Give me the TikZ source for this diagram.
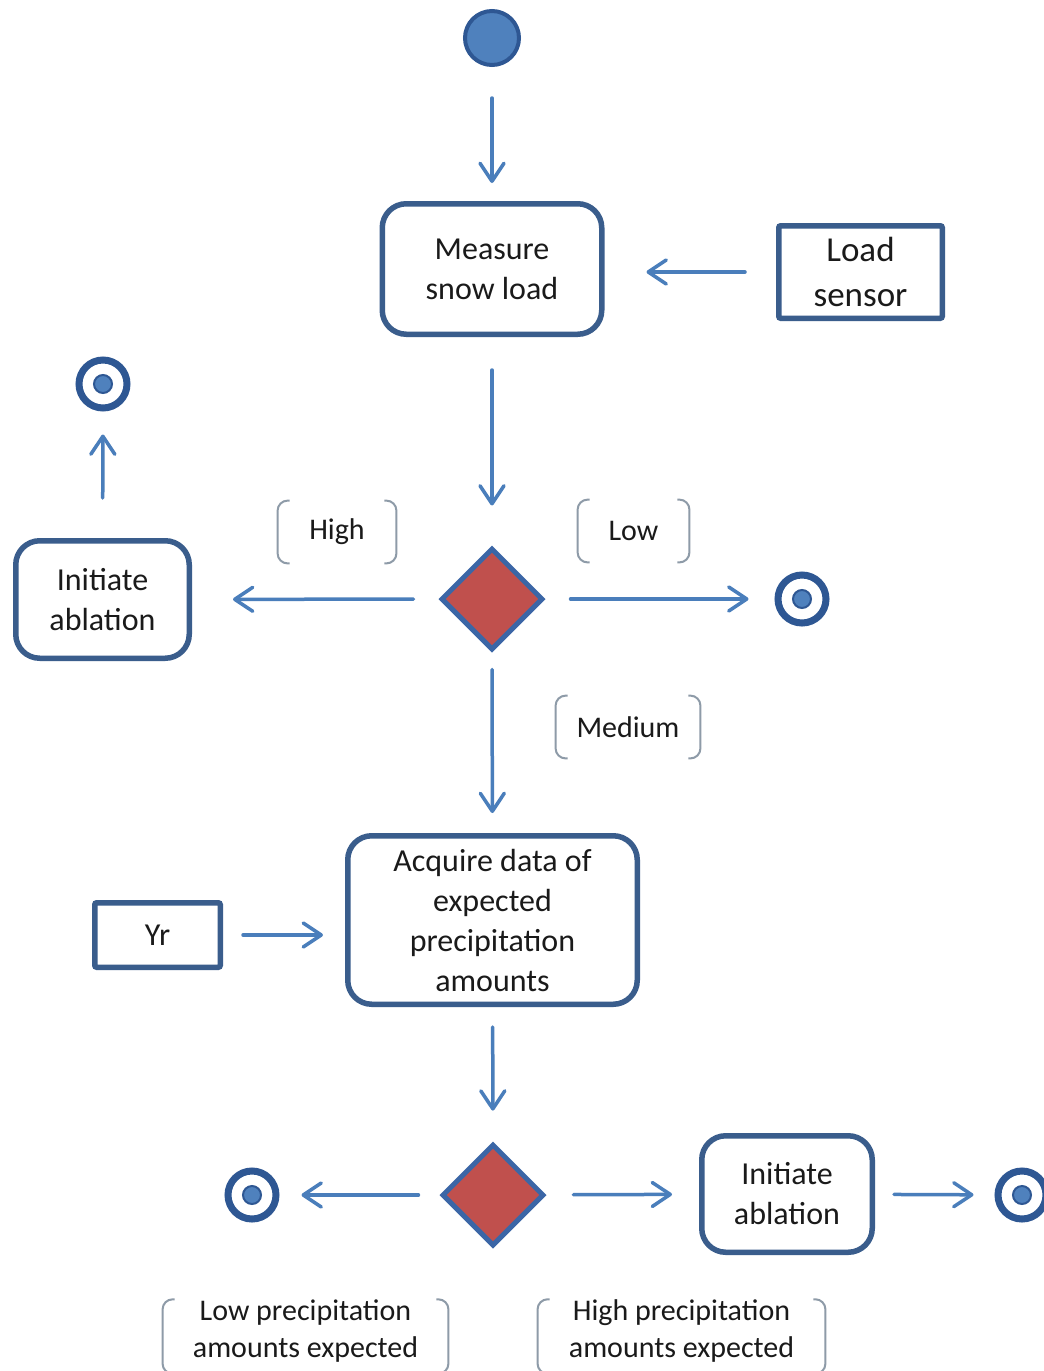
\documentclass[tikz,border=0pt]{standalone}
\usepackage{fontspec}
\setmainfont{Carlito}
\usetikzlibrary{arrows.meta,shapes.geometric}

\definecolor{flowblue}{HTML}{4A7EBB}
\definecolor{edgeblue}{HTML}{3A5D8C}
\definecolor{ringblue}{HTML}{2E5793}
\definecolor{dotblue}{HTML}{4F81BD}
\definecolor{diaedge}{HTML}{3B66A6}
\definecolor{diafill}{HTML}{C0504D}
\definecolor{guardgray}{HTML}{8E9BA8}
\definecolor{ink}{HTML}{1A1A1A}

\tikzset{
  act/.style={draw=edgeblue,line width=2.75pt,rounded corners=12pt,align=center,
    inner sep=0pt,text=ink,font=\fontsize{16}{20}\selectfont},
  obj/.style={draw=edgeblue,line width=2.75pt,rounded corners=1pt,align=center,
    inner sep=0pt,text=ink,font=\fontsize{16}{20}\selectfont},
  decision/.style={diamond,aspect=1,draw=diaedge,fill=diafill,line width=2.5pt,
    minimum width=51pt,minimum height=51pt,inner sep=0pt},
  initial/.style={circle,draw=ringblue,fill=dotblue,line width=2pt,minimum size=27pt,inner sep=0pt},
  final/.style={circle,draw=ringblue,line width=3.5pt,minimum size=24pt,inner sep=0pt,
    path picture={\fill[dotblue,draw=ringblue,line width=1pt] (path picture bounding box.center) circle (4.5pt);}},
  guard/.style={inner sep=0pt,align=center,text=ink,font=\fontsize{15}{18.5}\selectfont},
  guardline/.style={draw=guardgray,line width=1pt,rounded corners=5pt},
  flow/.style={draw=flowblue,line width=1.75pt,line cap=round,
    -{Straight Barb[length=9pt,width=12pt,line cap=round,line join=round]}},
}

% bracket pair round a guard label, optional drop of the lower ends
\newcommand{\guardbrackets}[2][0pt]{%
  \draw[guardline] ([xshift=6pt]#2.north west) -- (#2.north west) -- ([yshift=-#1]#2.south west) -- ([xshift=6pt,yshift=-#1]#2.south west);
  \draw[guardline] ([xshift=-6pt]#2.north east) -- (#2.north east) -- ([yshift=-#1]#2.south east) -- ([xshift=-6pt,yshift=-#1]#2.south east);}

\begin{document}
\begin{tikzpicture}[x=0.5pt,y=-0.5pt]
\clip (0,0) rectangle (1044,1371);
\fill[white] (0,0) rectangle (1044,1371);

% activities and objects
\node[initial] (start) at (492,38) {};
\node[act,minimum width=109.75pt,minimum height=65.25pt] (measure) at (492,269) {Measure\\snow load};
\node[obj,minimum width=81.75pt,minimum height=46.25pt,font=\fontsize{17.5}{22.5}\selectfont] (sensor) at (860.5,272) {Load\\sensor};
\node[decision] (load) at (492,599) {};
\node[act,minimum width=86.75pt,minimum height=58.75pt] (ablationA) at (102.5,599.5) {Initiate\\ablation};
\node[final] (endA) at (103,384) {};
\node[final] (endB) at (802,599) {};
\node[act,minimum width=144.75pt,minimum height=84.25pt] (acquire) at (492.5,920) {Acquire data of\\expected\\precipitation\\amounts};
\node[obj,minimum width=62.75pt,minimum height=32.25pt] (yr) at (157.5,935) {Yr};
\node[decision] (precip) at (493,1195) {};
\node[final] (endC) at (252,1195) {};
\node[act,minimum width=85.25pt,minimum height=58.25pt] (ablationB) at (787,1194) {Initiate\\ablation};
\node[final] (endD) at (1022,1195) {};

% guard labels
\node[guard,minimum width=59pt,minimum height=31pt] (high) at (337,532) {High};
\node[guard,minimum width=55.5pt,minimum height=31pt] (low) at (633.5,531) {Low};
\node[guard,minimum width=72pt,minimum height=31pt] (medium) at (628,727) {Medium};
\node[guard,minimum width=142.5pt,minimum height=28pt] (lowprecip) at (305.5,1331) {Low precipitation\\amounts expected};
\node[guard,minimum width=143.5pt,minimum height=28pt] (highprecip) at (681.5,1331) {High precipitation\\amounts expected};
\foreach \g in {high,low,medium}
  {\guardbrackets{\g}}
\guardbrackets[5.5pt]{lowprecip}
\guardbrackets[5.5pt]{highprecip}

% control flow
\draw[flow,shorten <=15.5pt,shorten >=9pt] (start) -- (measure);
\draw[flow,shorten <=15.5pt,shorten >=21pt] (sensor) -- (sensor -| measure.east);
\draw[flow,shorten <=16.5pt,shorten >=20pt] (measure) -- (load);
\draw[flow,shorten <=12.5pt,shorten >=20.5pt] (load) -- (ablationA);
\draw[flow,shorten <=20pt,shorten >=11.5pt] (ablationA) -- (endA);
\draw[flow,shorten <=12.5pt,shorten >=13pt] (load) -- (endB);
\draw[flow,shorten <=8.5pt,shorten >=10pt] (load) -- (acquire);
\draw[flow,shorten <=10pt,shorten >=11pt] (yr) -- (yr -| acquire.west);
\draw[flow,shorten <=10pt,shorten >=15.5pt] (acquire) -- (precip);
\draw[flow,shorten <=10.5pt,shorten >=11pt] (precip) -- (endC);
\draw[flow,shorten <=13.5pt,shorten >=13.5pt] (precip) -- (ablationB);
\draw[flow,shorten <=9.5pt,shorten >=10.5pt] (ablationB) -- (endD);
\end{tikzpicture}
\end{document}
